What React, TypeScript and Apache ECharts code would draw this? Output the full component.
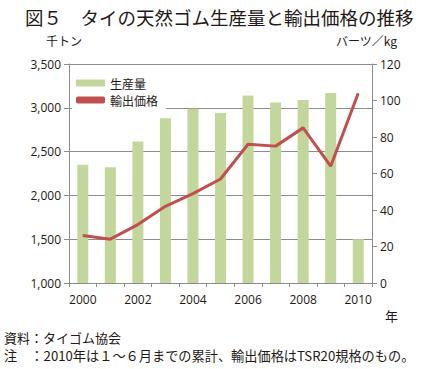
import React, { useEffect, useRef } from "react";
import * as echarts from "echarts";

const years = ["2000", "2001", "2002", "2003", "2004", "2005", "2006", "2007", "2008", "2009", "2010"];
const production = [2350, 2320, 2615, 2880, 2990, 2940, 3140, 3060, 3090, 3170, 1500];
const exportPrice = [26, 24, 32, 42, 49, 57, 76, 75, 85, 64, 104];
const leftTicks = [1000, 3500, 500];
const rightTicks = [0, 120, 20];

const FONT = "'Noto Sans CJK JP', 'Noto Sans', sans-serif";
const LFONT = "'Open Sans', 'Noto Sans', sans-serif";

export default function App() {
  const ref = useRef<HTMLDivElement>(null);
  useEffect(() => {
    if (!ref.current) return;
    const chart = echarts.init(ref.current, null, { renderer: "svg" });
    chart.setOption({
      animation: false,
      backgroundColor: "#ffffff",
      title: {
        text: "図５　タイの天然ゴム生産量と輸出価格の推移",
        left: 20,
        top: 3,
        textStyle: { fontFamily: FONT, fontSize: 18.5, fontWeight: "normal", color: "#231815" },
      },
      graphic: [
        { type: "text", left: 46, top: 34, style: { text: "千トン", font: `12px ${FONT}`, fill: "#231815" } },
        { type: "text", left: 336, top: 34, style: { text: "バーツ／kg", font: `12px ${FONT}`, fill: "#231815" } },
        { type: "text", left: 385, top: 309, style: { text: "年", font: `13px ${FONT}`, fill: "#231815" } },
        { type: "text", left: 4, top: 331, style: { text: "資料：タイゴム協会", font: `13px ${FONT}`, fill: "#231815" } },
        { type: "text", left: 4, top: 349, style: { text: "注　：2010年は１～６月までの累計、輸出価格はTSR20規格のもの。", font: `13.2px ${FONT}`, fill: "#231815" } },
      ],
      legend: {
        orient: "vertical",
        left: 72,
        top: 74,
        backgroundColor: "#ffffff",
        padding: [3, 8, 3, 4],
        itemGap: 5,
        itemWidth: 29,
        itemHeight: 7,
        textStyle: { fontFamily: FONT, fontSize: 12, color: "#231815" },
        data: [
          { name: "生産量", icon: "rect" },
          { name: "輸出価格", icon: "roundRect" },
        ],
      },
      grid: { left: 69, right: 49, top: 64, bottom: 86 },
      xAxis: {
        type: "category",
        data: years,
        boundaryGap: true,
        axisLine: { lineStyle: { color: "#8c8c8c", width: 1 } },
        axisTick: { show: true, interval: 0, length: 4, lineStyle: { color: "#8c8c8c" } },
        axisLabel: { interval: 1, margin: 10, fontFamily: LFONT, fontSize: 12, color: "#231815" },
      },
      yAxis: [
        {
          type: "value",
          min: leftTicks[0],
          max: leftTicks[1],
          interval: leftTicks[2],
          axisLine: { show: true, lineStyle: { color: "#8c8c8c" } },
          axisTick: { show: true, length: 5, lineStyle: { color: "#8c8c8c" } },
          splitLine: { show: true, lineStyle: { color: "#8c8c8c", width: 1 } },
          axisLabel: {
            fontFamily: LFONT,
            fontSize: 12,
            color: "#231815",
            margin: 8,
            formatter: (v: number) => v.toLocaleString("en-US"),
          },
        },
        {
          type: "value",
          min: rightTicks[0],
          max: rightTicks[1],
          interval: rightTicks[2],
          position: "right",
          axisLine: { show: true, lineStyle: { color: "#8c8c8c" } },
          axisTick: { show: true, length: 5, lineStyle: { color: "#8c8c8c" } },
          splitLine: { show: false },
          axisLabel: { fontFamily: LFONT, fontSize: 12, color: "#231815", margin: 8 },
        },
      ],
      series: [
        {
          name: "生産量",
          type: "bar",
          data: production,
          barWidth: "40%",
          itemStyle: { color: "#C3D69B" },
          yAxisIndex: 0,
        },
        {
          name: "輸出価格",
          type: "line",
          data: exportPrice,
          yAxisIndex: 1,
          symbol: "none",
          lineStyle: { color: "#C0504D", width: 3 },
          itemStyle: { color: "#C0504D" },
        },
      ],
    });
    return () => chart.dispose();
  }, []);
  return <div ref={ref} style={{ position: "fixed", left: 0, top: 0, width: 421, height: 369 }} />;
}
